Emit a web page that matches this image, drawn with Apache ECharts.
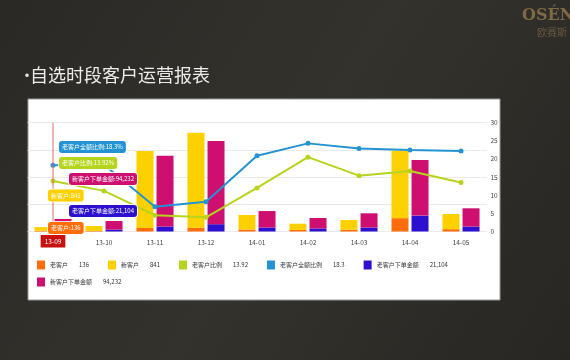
<!DOCTYPE html>
<html><head><meta charset="utf-8">
<script src="https://cdn.jsdelivr.net/npm/echarts@6/dist/echarts.min.js"></script>
<style>html,body{margin:0;padding:0;background:#2d2c28;}#c{width:570px;height:360px;}</style>
</head><body><div id="c"></div>
<script>
const categories = ['13-09','13-10','13-11','13-12','14-01','14-02','14-03','14-04','14-05'];
const oldCount = [136, 136, 790, 850, 440, 350, 390, 2950, 510];
const newCount = [841, 1077, 16970, 20950, 3200, 1370, 2150, 14870, 3350];
const oldRatio = [13.92, 11.2, 4.5, 3.9, 12.0, 20.5, 15.4, 16.7, 13.5];
const oldAmtRatio = [18.3, 18.4, 6.8, 8.2, 20.9, 24.3, 22.9, 22.5, 22.2];
const oldAmt = [21104, 17750, 46000, 67000, 37000, 28000, 36500, 146000, 45500];
const newAmt = [94232, 78750, 650000, 765000, 151000, 96000, 130800, 511000, 167700];
const ratioTicks = {min: 0, max: 30, interval: 5};

const FONT = "'Noto Sans CJK SC', 'Noto Sans', sans-serif";
const C = {
  oldC: '#ff6c0a', newC: '#fdd000', ratio: '#b4d51b', amtRatio: '#2493d3',
  oldA: '#2d10cf', newA: '#cf0f70'
};
const N = ['老客户','新客户','老客户比例','老客户全额比例','老客户下单金额','新客户下单金额'];
const fmt = v => v.toLocaleString('en-US');
const legendVals = {
  [N[0]]: fmt(oldCount[0]), [N[1]]: fmt(newCount[0]), [N[2]]: String(oldRatio[0]),
  [N[3]]: String(oldAmtRatio[0]), [N[4]]: fmt(oldAmt[0]), [N[5]]: fmt(newAmt[0])
};
const legendText = {
  fontSize: 6, color: '#333', fontFamily: FONT,
  rich: { n: {fontSize: 6, color: '#333', fontFamily: FONT}, s: {width: 11}, v: {fontSize: 6, color: '#333', fontFamily: FONT} }
};
const legendFmt = name => `{n|${name}}{s|}{v|${legendVals[name]}}`;

const baseGraphic = [
  {type: 'rect', z: -10, shape: {x: 28, y: 99, width: 472, height: 201}, style: {fill: '#ffffff', stroke: '#9a9a9a', lineWidth: 1}},
  {type: 'text', style: {x: 19, y: 75, text: '•', fill: '#e6e6e6', font: `16px ${FONT}`, textVerticalAlign: 'middle'}},
  {type: 'text', style: {x: 30, y: 75, text: '自选时段客户运营报表', fill: '#ececec', font: `18px ${FONT}`, textVerticalAlign: 'middle'}},
  {type: 'text', style: {x: 522, y: 16, text: 'OSÉN', fill: '#7e6a44', font: `bold 16px 'DejaVu Serif', serif`, textVerticalAlign: 'middle'}},
  {type: 'text', style: {x: 537, y: 32, text: '欧赛斯', fill: '#665840', font: `10px ${FONT}`, textVerticalAlign: 'middle'}}
];

const chart = echarts.init(document.getElementById('c'));
const option = {
  animation: false,
  backgroundColor: {type: 'linear', x: 0, y: 0, x2: 1, y2: 1, colorStops: [
    {offset: 0, color: '#2a2925'}, {offset: 0.5, color: '#33322d'}, {offset: 1, color: '#272622'}]},
  textStyle: {fontFamily: FONT},
  grid: {left: 27.5, right: 83.5, top: 122.7, bottom: 128.5},
  legend: [
    {data: N.slice(0, 5), left: 37, top: 260.5, icon: 'rect', itemWidth: 8, itemHeight: 9, itemGap: 19, padding: 0,
     textStyle: legendText, formatter: legendFmt},
    {data: [N[5]], left: 37, top: 277.5, icon: 'rect', itemWidth: 8, itemHeight: 9, padding: 0,
     textStyle: legendText, formatter: legendFmt}
  ],
  xAxis: {
    type: 'category', data: categories, boundaryGap: true,
    axisLine: {show: false}, axisTick: {show: false},
    axisLabel: {color: '#444', fontSize: 6.5, margin: 8}
  },
  yAxis: [
    {type: 'value', min: 0, max: 24000, interval: 6000, position: 'left',
     axisLabel: {show: false}, axisLine: {show: false}, axisTick: {show: false},
     splitLine: {show: true, lineStyle: {type: 'dotted', color: '#d4d4d4', width: 1}}},
    {type: 'value', min: 0, max: 1000000, show: false, splitLine: {show: false}},
    {type: 'value', min: ratioTicks.min, max: ratioTicks.max, interval: ratioTicks.interval, position: 'right',
     axisLabel: {color: '#444', fontSize: 6.5, margin: 4}, axisLine: {show: false}, axisTick: {show: false},
     splitLine: {show: false}}
  ],
  series: [
    {name: N[0], type: 'bar', stack: 'cnt', yAxisIndex: 0, data: oldCount, barWidth: 17, barGap: '18%',
     itemStyle: {color: C.oldC}},
    {name: N[1], type: 'bar', stack: 'cnt', yAxisIndex: 0, data: newCount, barWidth: 17, barGap: '18%',
     itemStyle: {color: C.newC}},
    {name: N[2], type: 'line', yAxisIndex: 2, data: oldRatio, symbol: 'circle', symbolSize: 5, z: 5,
     lineStyle: {width: 2, color: C.ratio}, itemStyle: {color: C.ratio}},
    {name: N[3], type: 'line', yAxisIndex: 2, data: oldAmtRatio, symbol: 'circle', symbolSize: 5, z: 5,
     lineStyle: {width: 2, color: C.amtRatio}, itemStyle: {color: C.amtRatio}},
    {name: N[4], type: 'bar', stack: 'amt', yAxisIndex: 1, data: oldAmt, barWidth: 17, barGap: '18%',
     itemStyle: {color: C.oldA}},
    {name: N[5], type: 'bar', stack: 'amt', yAxisIndex: 1, data: newAmt, barWidth: 17, barGap: '18%',
     itemStyle: {color: C.newA}}
  ],
  graphic: baseGraphic
};
chart.setOption(option);

const x0 = chart.convertToPixel({xAxisIndex: 0}, categories[0]);
const yTop = chart.convertToPixel({yAxisIndex: 2}, ratioTicks.max);
const yBase = chart.convertToPixel({yAxisIndex: 2}, ratioTicks.min);
function tip(x, y, text, bg) {
  return {type: 'text', z: 50, style: {x: x, y: y, text: text, fill: '#fff', font: `6px ${FONT}`,
    textAlign: 'left', textVerticalAlign: 'top', backgroundColor: bg, padding: [3, 3],
    borderRadius: 3, borderColor: 'rgba(255,255,255,0.85)', borderWidth: 1}};
}
const pointer = [
  {type: 'line', z: 40, shape: {x1: x0, y1: yTop, x2: x0, y2: yBase + 2}, style: {stroke: '#e46a6a', lineWidth: 1}},
  {type: 'text', z: 60, style: {x: x0, y: yBase + 3.5, text: categories[0], fill: '#fff', font: `6.5px ${FONT}`,
    textAlign: 'center', textVerticalAlign: 'top', backgroundColor: '#c8110f', padding: [3, 4]}}
];
const tips = [
  tip(x0 + 6, 141, `${N[3]}:${oldAmtRatio[0]}%`, C.amtRatio),
  tip(x0 + 6, 157, `${N[2]}:${oldRatio[0]}%`, C.ratio),
  tip(x0 + 16, 173, `${N[5]}:${fmt(newAmt[0])}`, C.newA),
  tip(x0 - 5, 189.5, `${N[1]}:${fmt(newCount[0])}`, C.newC),
  tip(x0 + 16, 205, `${N[4]}:${fmt(oldAmt[0])}`, C.oldA),
  tip(x0 - 5, 222, `${N[0]}:${fmt(oldCount[0])}`, C.oldC)
];
chart.setOption({graphic: baseGraphic.concat(pointer, tips)});
</script>
</body></html>
